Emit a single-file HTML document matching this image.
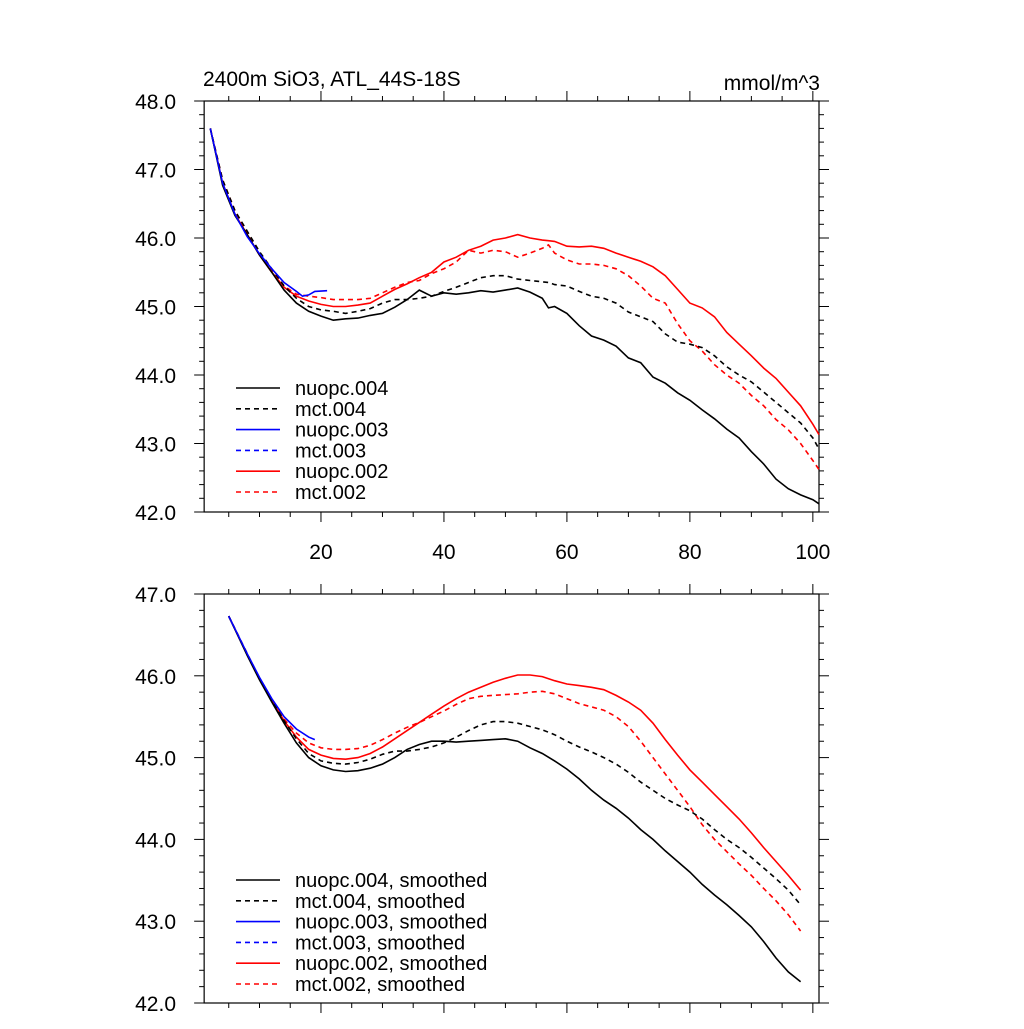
<!DOCTYPE html>
<html><head><meta charset="utf-8"><style>
body{margin:0;background:#fff}
svg text{font-family:"Liberation Sans",sans-serif;fill:#000}
</style></head><body>
<svg id="chart" width="1024" height="1024" xmlns="http://www.w3.org/2000/svg">
<text x="203" y="86" font-size="21">2400m SiO3, ATL_44S-18S</text>
<text x="820" y="90" font-size="21" text-anchor="end">mmol/m^3</text>
</svg>
<script>
const xTop=[2,4,6,8,10,12,14,16,18,20,22,24,26,28,30,32,34,36,38,40,42,44,46,48,50,52,54,56,57,58,60,62,64,66,68,70,72,74,76,78,80,82,84,86,88,90,92,94,96,98,100,101];
const nuopc004=[47.6,46.77,46.33,46.05,45.75,45.5,45.24,45.05,44.93,44.86,44.8,44.82,44.83,44.87,44.9,44.99,45.1,45.24,45.15,45.2,45.18,45.2,45.23,45.21,45.24,45.27,45.21,45.12,44.98,45.0,44.9,44.72,44.57,44.51,44.42,44.25,44.18,43.97,43.88,43.74,43.63,43.49,43.36,43.21,43.08,42.88,42.7,42.48,42.34,42.25,42.18,42.12];
const mct004=[47.6,46.85,46.4,46.1,45.8,45.55,45.3,45.12,45.0,44.95,44.93,44.9,44.93,44.97,45.05,45.1,45.1,45.12,45.15,45.22,45.28,45.35,45.42,45.45,45.45,45.4,45.38,45.36,45.35,45.32,45.3,45.22,45.15,45.12,45.05,44.92,44.85,44.78,44.6,44.48,44.45,44.4,44.28,44.12,44.0,43.9,43.75,43.6,43.45,43.3,43.08,42.92];
const nuopc002=[47.6,46.8,46.35,46.05,45.75,45.5,45.28,45.15,45.08,45.03,45.0,45.0,45.02,45.05,45.15,45.25,45.33,45.42,45.5,45.65,45.72,45.82,45.88,45.97,46.0,46.05,46.0,45.97,45.96,45.95,45.88,45.87,45.88,45.85,45.78,45.72,45.66,45.58,45.45,45.25,45.05,44.98,44.85,44.62,44.45,44.28,44.1,43.95,43.75,43.55,43.28,43.13];
const mct002=[47.6,46.85,46.4,46.08,45.78,45.52,45.3,45.18,45.15,45.13,45.1,45.1,45.1,45.12,45.2,45.28,45.35,45.38,45.48,45.55,45.65,45.82,45.78,45.82,45.8,45.72,45.78,45.85,45.9,45.78,45.68,45.62,45.62,45.6,45.55,45.45,45.3,45.12,45.05,44.75,44.5,44.35,44.15,44.0,43.88,43.7,43.55,43.35,43.2,43.0,42.75,42.62];
const xBlue=[2,4,6,8,10,12,14,16,17,18,19,21];
const nuopc003=[47.6,46.8,46.35,46.02,45.77,45.55,45.35,45.22,45.15,45.17,45.22,45.23];
const xBot=[5,8,10,12,14,16,18,20,22,24,26,28,30,32,34,36,38,40,42,44,46,48,50,52,54,56,58,60,62,64,66,68,70,72,74,76,78,80,82,84,86,88,90,92,94,96,98];
const sNuopc004=[46.73,46.25,45.95,45.68,45.42,45.18,45.0,44.9,44.85,44.83,44.84,44.87,44.92,45.0,45.1,45.16,45.2,45.2,45.19,45.2,45.21,45.22,45.23,45.2,45.12,45.05,44.96,44.86,44.74,44.6,44.48,44.38,44.26,44.12,44.0,43.86,43.73,43.6,43.45,43.32,43.2,43.07,42.93,42.75,42.55,42.38,42.26];
const sMct004=[46.73,46.27,45.97,45.7,45.45,45.23,45.05,44.96,44.93,44.92,44.94,44.98,45.04,45.08,45.08,45.1,45.13,45.18,45.25,45.33,45.4,45.44,45.44,45.42,45.38,45.34,45.28,45.2,45.13,45.07,45.0,44.92,44.82,44.7,44.6,44.5,44.42,44.35,44.25,44.12,44.0,43.9,43.78,43.65,43.52,43.38,43.2];
const sNuopc002=[46.73,46.26,45.96,45.7,45.45,45.25,45.1,45.03,44.99,44.98,45.0,45.05,45.13,45.23,45.33,45.43,45.53,45.63,45.72,45.8,45.86,45.92,45.97,46.01,46.01,45.99,45.94,45.9,45.88,45.86,45.83,45.76,45.68,45.58,45.42,45.22,45.03,44.85,44.7,44.55,44.4,44.25,44.08,43.9,43.73,43.56,43.38];
const sMct002=[46.73,46.27,45.97,45.7,45.47,45.3,45.18,45.12,45.1,45.1,45.11,45.15,45.22,45.3,45.37,45.43,45.5,45.57,45.65,45.72,45.75,45.76,45.77,45.78,45.8,45.81,45.78,45.72,45.66,45.62,45.58,45.5,45.38,45.2,45.0,44.8,44.6,44.4,44.18,44.0,43.85,43.7,43.56,43.4,43.25,43.08,42.88];
const xBlueS=[5,8,10,12,14,16,18,19];
const sNuopc003=[46.73,46.27,45.98,45.72,45.5,45.35,45.25,45.22];
const xTickLabels=["20","40","60","80","100"];
const topYLabels=["42.0","43.0","44.0","45.0","46.0","47.0","48.0"];
const botYLabels=["42.0","43.0","44.0","45.0","46.0","47.0"];

const svg=document.getElementById('chart');
const NS='http://www.w3.org/2000/svg';
function mk(tag,attrs){const e=document.createElementNS(NS,tag);for(const k in attrs)e.setAttribute(k,attrs[k]);svg.appendChild(e);return e;}
const X0=204.15,X1=819,XMIN=1,XMAX=101;
const xs=v=>X0+(v-XMIN)/(XMAX-XMIN)*(X1-X0);

function panel(top,bottom,ymin,ymax,showX,name,ylabels){
  const ys=v=>bottom-(v-ymin)/(ymax-ymin)*(bottom-top);
  const fr=mk('rect',{x:X0,y:top,width:X1-X0,height:bottom-top,fill:'none',stroke:'#000','stroke-width':1.2});
  
  
  for(let v=5;v<=100;v+=5){
    const L=(v%20===0)?10:5,x=xs(v);
    const t1=mk('line',{x1:x,x2:x,y1:bottom,y2:bottom+L,stroke:'#000'});
    
    
    const t2=mk('line',{x1:x,x2:x,y1:top,y2:top-L,stroke:'#000'});
    
    
  }
  if(showX){xTickLabels.forEach(s=>{const t=mk('text',{x:xs(+s),y:bottom+47,'font-size':21,'text-anchor':'middle'});t.textContent=s;
    
    });}
  for(let i=0;i<=Math.round((ymax-ymin)*5);i++){
    const v=ymin+i*0.2,y=ys(v),L=(i%5===0)?10:5;
    const a=mk('line',{x1:X0,x2:X0-L,y1:y,y2:y,stroke:'#000'});
    
    
    const b=mk('line',{x1:X1,x2:X1+L,y1:y,y2:y,stroke:'#000'});
    
    
  }
  ylabels.forEach(s=>{const t=mk('text',{x:176,y:ys(+s)+8,'font-size':21,'text-anchor':'end'});t.textContent=s;
    
    });
  return ys;
}
function line(xv,yv,ys,color,dash,name){
  const d=xv.map((x,i)=>(i?'L':'M')+xs(x).toFixed(1)+','+ys(yv[i]).toFixed(1)).join('');
  const p=mk('path',{d:d,fill:'none',stroke:color,'stroke-width':1.6});
  if(dash)p.setAttribute('stroke-dasharray','5,4');
  
  
}
function legend(y0,suffix,name){
  const items=[['nuopc.004','#000',0],['mct.004','#000',1],['nuopc.003','#00f',0],['mct.003','#00f',1],['nuopc.002','#f00',0],['mct.002','#f00',1]];
  items.forEach((it,i)=>{
    const y=y0+i*20.8;
    const l=mk('line',{x1:236,x2:280,y1:y,y2:y,stroke:it[1],'stroke-width':1.6});
    if(it[2])l.setAttribute('stroke-dasharray','5,4');
    
    
    const t=mk('text',{x:295,y:y+7,'font-size':20});t.textContent=it[0]+suffix;
    
    
  });
}
const ysT=panel(101,512,42,48,true,'top-panel',topYLabels);
line(xTop,mct002,ysT,'#f00',1,'mct002-line');
line(xTop,nuopc002,ysT,'#f00',0,'nuopc002-line');
line(xTop,mct004,ysT,'#000',1,'mct004-line');
line(xTop,nuopc004,ysT,'#000',0,'nuopc004-line');
line(xBlue,nuopc003,ysT,'#00f',0,'nuopc003-line');
legend(388,'','top-panel');
const ysB=panel(594,1003,42,47,false,'bottom-panel',botYLabels);
line(xBot,sMct002,ysB,'#f00',1,'mct002-smoothed-line');
line(xBot,sNuopc002,ysB,'#f00',0,'nuopc002-smoothed-line');
line(xBot,sMct004,ysB,'#000',1,'mct004-smoothed-line');
line(xBot,sNuopc004,ysB,'#000',0,'nuopc004-smoothed-line');
line(xBlueS,sNuopc003,ysB,'#00f',0,'nuopc003-smoothed-line');
legend(880,', smoothed','bottom-panel');
</script>
</body></html>
